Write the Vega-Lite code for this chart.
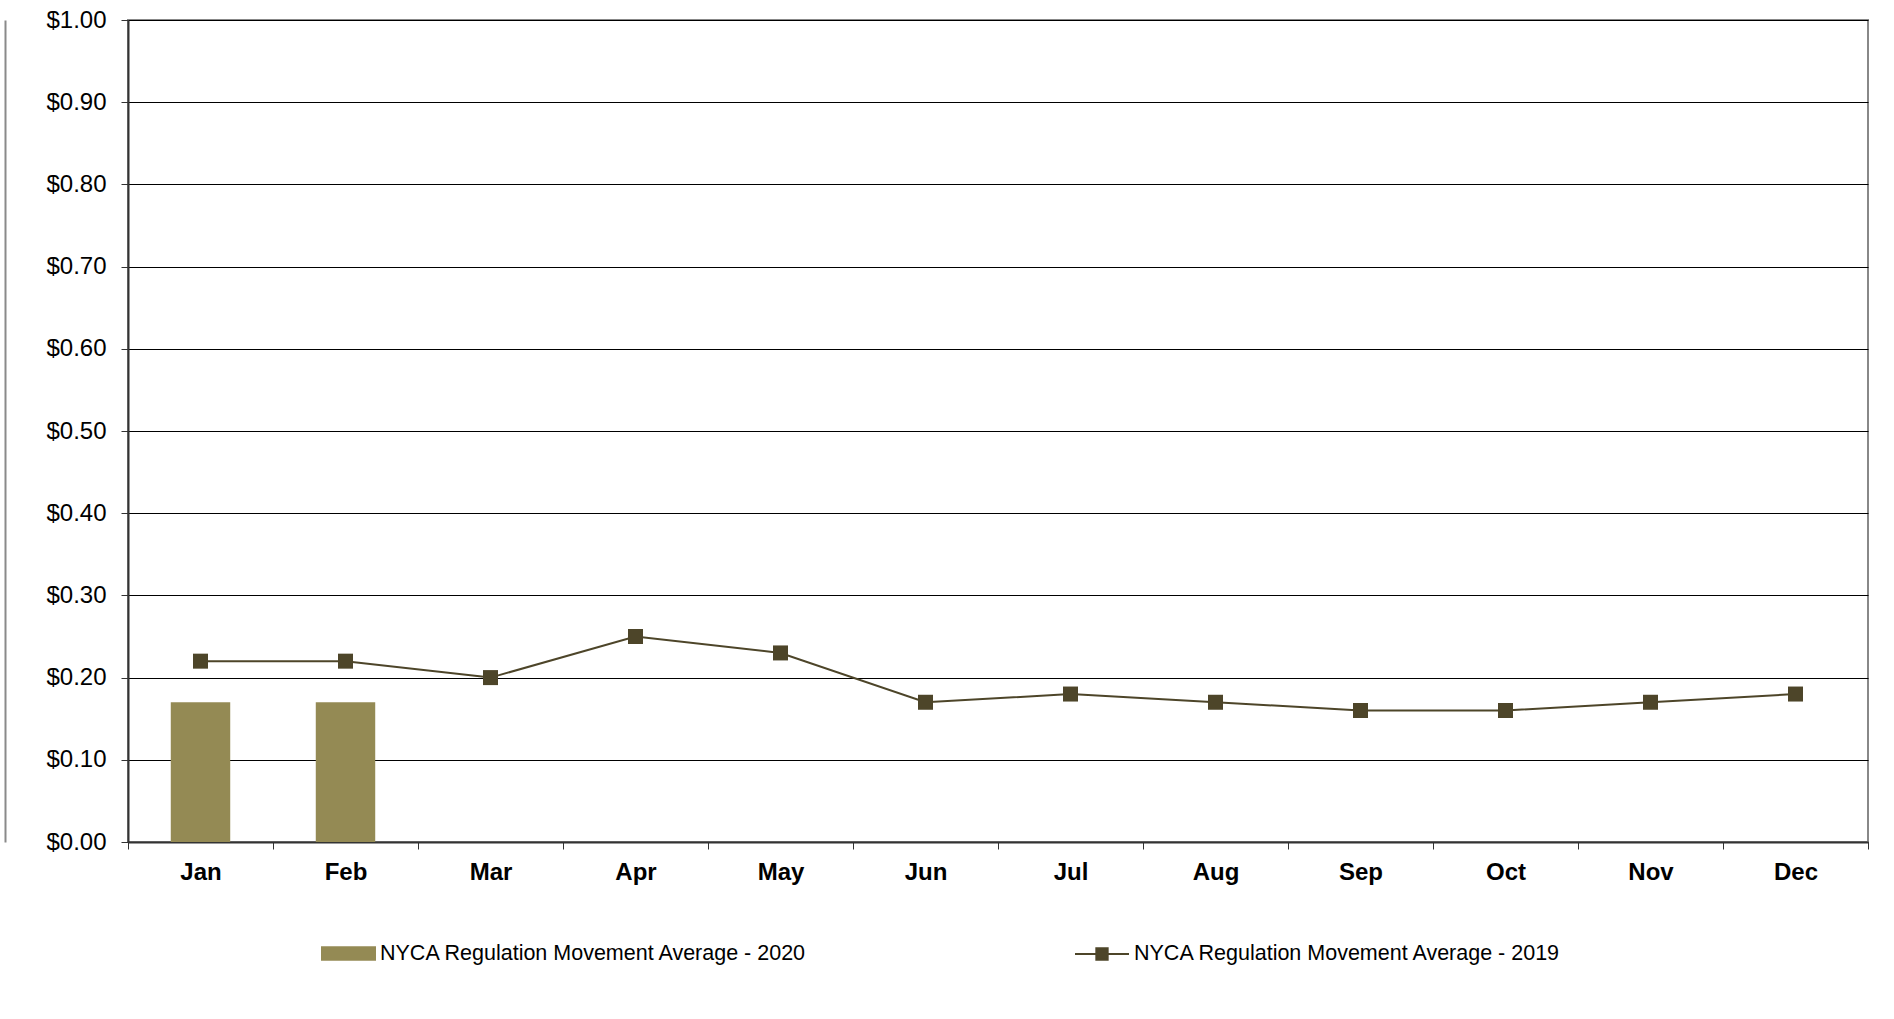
{
  "$schema": "https://vega.github.io/schema/vega-lite/v6.json",
  "width": 1740,
  "height": 822,
  "autosize": {"type": "none"},
  "padding": {"left": 128, "top": 20, "right": 26, "bottom": 177},
  "background": "white",
  "config": {
    "font": "Liberation Sans",
    "view": {"stroke": "#888888", "strokeWidth": 2},
    "legend": {"padding": 0, "labelFont": "Liberation Sans", "labelFontSize": 21.5, "labelColor": "black", "labelLimit": 700, "labelOffset": 4}
  },
  "data": {
    "values": [
      {"month": "Jan", "v2019": 0.22, "v2020": 0.17},
      {"month": "Feb", "v2019": 0.22, "v2020": 0.17},
      {"month": "Mar", "v2019": 0.20, "v2020": null},
      {"month": "Apr", "v2019": 0.25, "v2020": null},
      {"month": "May", "v2019": 0.23, "v2020": null},
      {"month": "Jun", "v2019": 0.17, "v2020": null},
      {"month": "Jul", "v2019": 0.18, "v2020": null},
      {"month": "Aug", "v2019": 0.17, "v2020": null},
      {"month": "Sep", "v2019": 0.16, "v2020": null},
      {"month": "Oct", "v2019": 0.16, "v2020": null},
      {"month": "Nov", "v2019": 0.17, "v2020": null},
      {"month": "Dec", "v2019": 0.18, "v2020": null}
    ]
  },
  "encoding": {
    "x": {
      "field": "month", "type": "nominal", "sort": null,
      "scale": {"paddingInner": 0, "paddingOuter": 0},
      "axis": {
        "title": null, "labelAngle": 0, "tickBand": "extent",
        "labelFontSize": 24, "labelFontWeight": "bold", "labelColor": "black",
        "labelPadding": 11, "tickSize": 7, "tickColor": "#333333", "tickWidth": 1,
        "domainColor": "#333333", "domainWidth": 2, "grid": false
      }
    }
  },
  "resolve": {"scale": {"y": "independent"}},
  "layer": [
    {
      "mark": {"type": "bar", "width": {"band": 0.41}},
      "encoding": {
        "y": {
          "field": "v2020", "type": "quantitative",
          "scale": {"domain": [0, 1], "nice": false},
          "axis": {
            "title": null, "orient": "left", "values": [0, 0.1, 0.2, 0.3, 0.4, 0.5, 0.6, 0.7, 0.8, 0.9, 1.0],
            "format": "$.2f", "labelFontSize": 24, "labelColor": "black", "labelPadding": 15,
            "tickSize": 7, "tickColor": "#333333", "domainColor": "#333333", "domainWidth": 2,
            "grid": true, "gridColor": "#000000", "gridWidth": 1, "gridOpacity": 1
          }
        },
        "fill": {
          "datum": "NYCA Regulation Movement Average - 2020",
          "scale": {"range": ["#948A54"]},
          "legend": {
            "orient": "none", "legendX": 193, "legendY": 906, "title": null,
            "symbolType": "M-1,-0.26H1V0.26H-1Z", "symbolSize": 3025,
            "symbolStrokeWidth": 0
          }
        }
      }
    },
    {
      "mark": {"type": "line", "strokeWidth": 2},
      "encoding": {
        "y": {"field": "v2019", "type": "quantitative", "scale": {"domain": [0, 1], "nice": false}, "axis": null},
        "stroke": {
          "datum": "NYCA Regulation Movement Average - 2019",
          "scale": {"range": ["#4D4529"]},
          "legend": {
            "orient": "none", "legendX": 946, "legendY": 906, "title": null,
            "symbolType": "M-1,0H1M-0.21,-0.21H0.21V0.21H-0.21Z", "symbolSize": 2916,
            "symbolStrokeWidth": 2, "symbolFillColor": "#4D4529"
          }
        }
      }
    },
    {
      "mark": {"type": "point", "shape": "square", "filled": true, "size": 225, "color": "#4D4529", "opacity": 1},
      "encoding": {
        "y": {
          "field": "v2019", "type": "quantitative",
          "scale": {"domain": [0, 1], "nice": false},
          "axis": {
            "title": null, "orient": "left", "offset": 123, "labels": false, "ticks": false, "grid": false,
            "domainColor": "#8a8a8a", "domainWidth": 2
          }
        }
      }
    }
  ]
}
